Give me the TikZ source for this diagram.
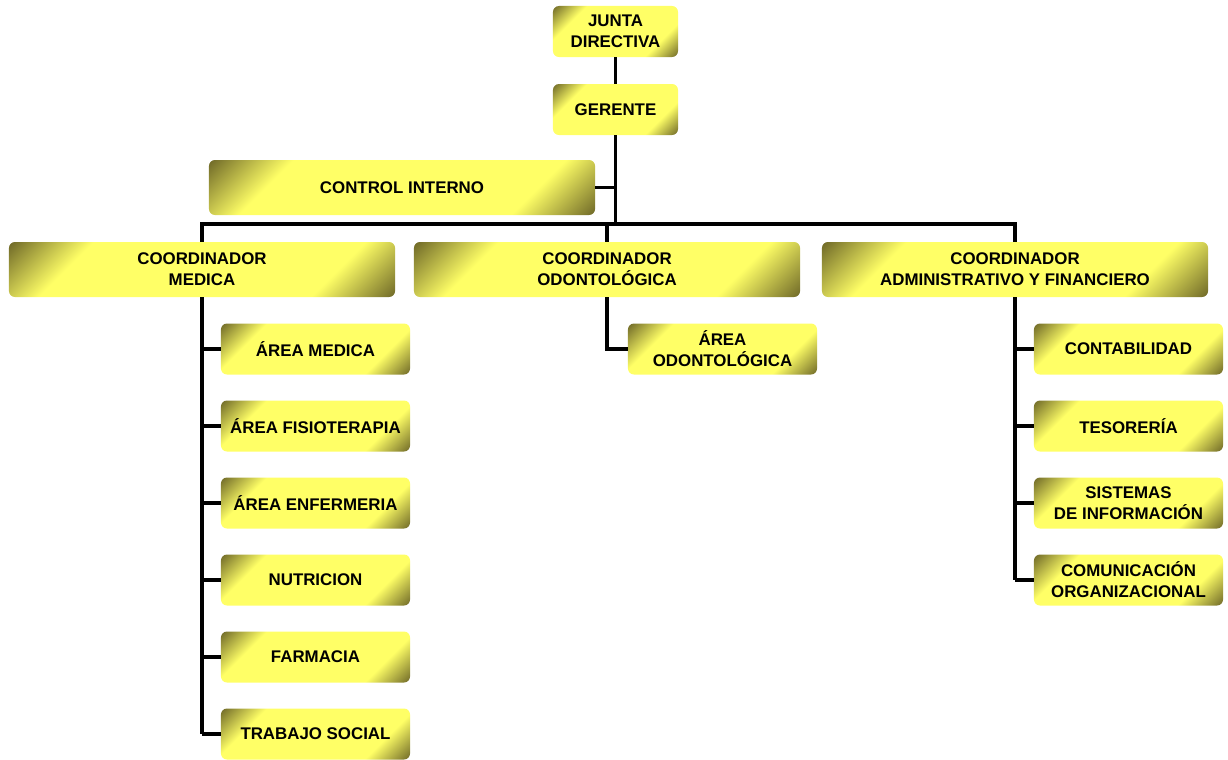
\documentclass[tikz,border=0pt]{standalone}
\usepackage{fontspec}
\setmainfont{Liberation Sans}
\usetikzlibrary{positioning}

\definecolor{boxdark}{RGB}{116,110,42}
\definecolor{boxlight}{RGB}{255,255,102}
\pgfdeclarehorizontalshading{boxshade}{100bp}{color(0bp)=(boxdark); color(15bp)=(boxdark); color(28bp)=(boxlight); color(72bp)=(boxlight); color(85bp)=(boxdark); color(100bp)=(boxdark)}

\begin{document}
\begin{tikzpicture}[x=0.025cm, y=-0.025cm]

  % BOUNDING BOX
  \useasboundingbox (0,0) rectangle (1228,759);

  % STYLES
  \tikzstyle{boxstyle} = [rectangle, rounded corners=0.15cm, shading=boxshade, shading angle=-45,
    align=center, inner sep=0pt, font=\fontsize{12}{15}\selectfont\bfseries]
  \tikzstyle{topbox} = [boxstyle, minimum width=3.125cm, minimum height=1.275cm]
  \tikzstyle{widebox} = [boxstyle, minimum width=9.65cm, minimum height=1.375cm]
  \tikzstyle{unitbox} = [boxstyle, minimum width=4.725cm, minimum height=1.275cm]
  \tikzstyle{edgestyle} = [line width=2.8pt, color=black]

  % TOP
  \node[topbox] (junta) at (615.5,31.5) {JUNTA\\DIRECTIVA};
  \node[topbox] (gerente) at (615.5,109.5) {GERENTE};
  \node[widebox] (control) at (402,187.5) {CONTROL INTERNO};

  % COORDINATORS
  \node[widebox] (cmed) at (202,269.5) {COORDINADOR\\MEDICA};
  \node[widebox] (codo) at (607,269.5) {COORDINADOR\\ODONTOL\'OGICA};
  \node[widebox] (cadm) at (1015,269.5) {COORDINADOR\\ADMINISTRATIVO Y FINANCIERO};

  % UNITS
  \foreach \name/\y/\txt in {med1/349/{\'AREA MEDICA}, med2/426/{\'AREA FISIOTERAPIA},
      med3/503/{\'AREA ENFERMERIA}, med4/580/{NUTRICION}, med5/657/{FARMACIA},
      med6/734/{TRABAJO SOCIAL}} {
    \node[unitbox] (\name) at (315.5,\y) {\txt};
  }
  \node[unitbox] (odo1) at (722.5,349) {\'AREA\\ODONTOL\'OGICA};
  \foreach \name/\y/\txt in {adm1/349/{CONTABILIDAD}, adm2/426/{TESORER\'IA},
      adm3/503/{SISTEMAS\\DE INFORMACI\'ON}, adm4/580/{COMUNICACI\'ON\\ORGANIZACIONAL}} {
    \node[unitbox] (\name) at (1128.5,\y) {\txt};
  }

  % EDGES
  \coordinate (bar) at (615.5,224);
  \draw[edgestyle] (junta) -- (gerente);
  \draw[edgestyle] (gerente.south) -- (bar);
  \draw[edgestyle] (control.east) -- (control.east -| gerente.south);
  \draw[edgestyle] (cmed.north) |- (bar) -| (cadm.north);
  \draw[edgestyle] (bar -| codo.north) -- (codo.north);

  \draw[edgestyle] (cmed.south) -- (cmed.south |- med6.west);
  \foreach \i in {1,...,6} {
    \draw[edgestyle] (cmed.south |- med\i.west) -- (med\i.west);
  }
  \draw[edgestyle] (codo.south) |- (odo1.west);
  \draw[edgestyle] (cadm.south) -- (cadm.south |- adm4.west);
  \foreach \i in {1,...,4} {
    \draw[edgestyle] (cadm.south |- adm\i.west) -- (adm\i.west);
  }

\end{tikzpicture}
\end{document}
